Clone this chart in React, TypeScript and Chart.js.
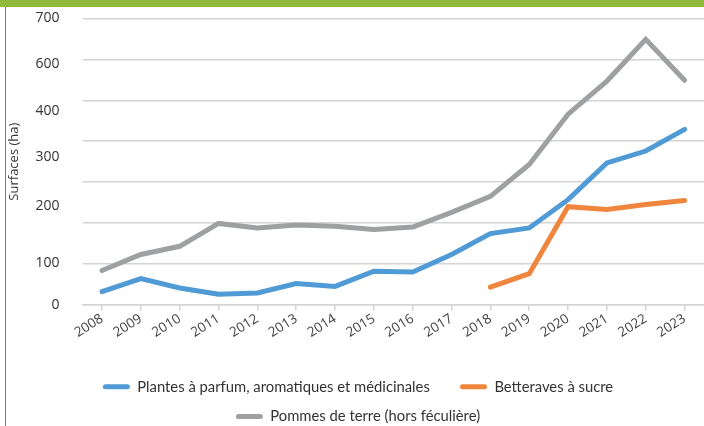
import React, { useEffect, useRef } from "react";
import { Chart, registerables } from "chart.js";

Chart.register(...registerables);

const years = ["2008", "2009", "2010", "2011", "2012", "2013", "2014", "2015", "2016", "2017", "2018", "2019", "2020", "2021", "2022", "2023"];
const plantes = [32, 64, 41, 26, 29, 52, 45, 82, 80, 123, 174, 188, 257, 347, 376, 429];
const betteraves = [null, null, null, null, null, null, null, null, null, null, 43, 76, 240, 233, 245, 255];
const pommes = [84, 123, 143, 199, 188, 195, 192, 184, 190, 226, 265, 343, 466, 547, 649, 549];

const yTickLabels = ["0", "100", "200", "300", "400", "600", "700"];
const yTickLabelValues = [0, 101, 241, 361, 473, 588, 700];

const seriesNames = ["Plantes à parfum, aromatiques et médicinales", "Betteraves à sucre", "Pommes de terre (hors féculière)"];

const BLUE = "#509BD5";
const ORANGE = "#F0863E";
const GRAY = "#9EA0A1";
const GRID = "#D4D4D4";
const FONT = "'Open Sans', sans-serif";

const legendShift = {
  id: "legendShift",
  afterLayout(chart: any) {
    if (chart.legend) {
      chart.legend.left += 4;
      chart.legend.right += 4;
    }
  },
};

export default function App() {
  const ref = useRef<HTMLCanvasElement | null>(null);

  useEffect(() => {
    document.body.style.margin = "0";
    const canvas = ref.current;
    if (!canvas) return;
    const line = (label: string, data: (number | null)[], color: string) => ({
      label,
      data,
      borderColor: color,
      backgroundColor: color,
      borderWidth: 5,
      borderCapStyle: "round" as const,
      pointRadius: 0,
      pointHoverRadius: 0,
      tension: 0,
      fill: false,
      spanGaps: false,
    });
    const chart = new Chart(canvas, {
      type: "line",
      data: {
        labels: years,
        datasets: [
          line(seriesNames[0], plantes, BLUE),
          line(seriesNames[1], betteraves, ORANGE),
          line(seriesNames[2], pommes, GRAY),
        ],
      },
      plugins: [legendShift],
      options: {
        responsive: false,
        animation: false,
        layout: { padding: { top: 18.5, right: 0, bottom: 0, left: 4 } },
        plugins: {
          tooltip: { enabled: false },
          legend: {
            position: "bottom",
            labels: {
              boxWidth: 27,
              boxHeight: 5,
              padding: 15,
              useBorderRadius: true,
              borderRadius: 2.5,
              color: "#333333",
              font: { family: "Lato, sans-serif", size: 14.8 },
              generateLabels: (c: any) =>
                c.data.datasets.map((ds: any, i: number) => ({
                  text: ds.label + (i === 0 ? "    " : ""),
                  fillStyle: ds.borderColor,
                  strokeStyle: ds.borderColor,
                  lineWidth: 0,
                  hidden: false,
                  datasetIndex: i,
                  borderRadius: 2.5,
                  fontColor: "#333333",
                })),
            },
          },
        },
        scales: {
          x: {
            type: "category",
            offset: true,
            afterFit: (axis: any) => {
              axis.height = 59.6;
            },
            grid: { display: true, drawOnChartArea: false, drawTicks: true, tickLength: 6, color: GRID, lineWidth: 1.5 },
            border: { display: true, color: GRID, width: 1.5 },
            ticks: { color: "#404040", font: { family: FONT, size: 13.5 }, minRotation: 32, maxRotation: 32, autoSkip: false, padding: 0 },
          },
          yl: {
            type: "linear",
            position: "left",
            weight: 1,
            min: 0,
            max: 700,
            afterBuildTicks: (axis: any) => {
              axis.ticks = yTickLabelValues.map((v) => ({ value: v }));
            },
            ticks: {
              color: "#333333",
              font: { family: FONT, size: 14 },
              padding: 4,
              callback: (_v: any, i: number) => yTickLabels[i],
            },
            grid: { display: false, drawTicks: false },
            border: { display: false },
            title: {
              display: true,
              text: "Surfaces (ha)",
              color: "#333333",
              font: { family: FONT, size: 13 },
              padding: { top: 2, bottom: 10 },
            },
          },
          y: {
            type: "linear",
            position: "left",
            weight: 0,
            min: 0,
            max: 700,
            afterFit: (axis: any) => {
              axis.width = 19;
            },
            ticks: { display: false, stepSize: 100 },
            grid: { color: GRID, lineWidth: 1.5, drawTicks: false },
            border: { display: false },
          },
        },
      },
    } as any);
    return () => chart.destroy();
  }, []);

  return (
    <div style={{ position: "relative", width: 704, height: 426, overflow: "hidden", background: "#fff" }}>
      <canvas ref={ref} width={704} height={434} style={{ position: "absolute", left: 0, top: 0 }} />
      <div style={{ position: "absolute", left: 0, top: 0, width: 704, height: 7, background: "#8EB93A" }} />
      <div style={{ position: "absolute", left: 5, top: 7, width: 1, height: 419, background: "#3F8F8F" }} />
    </div>
  );
}
